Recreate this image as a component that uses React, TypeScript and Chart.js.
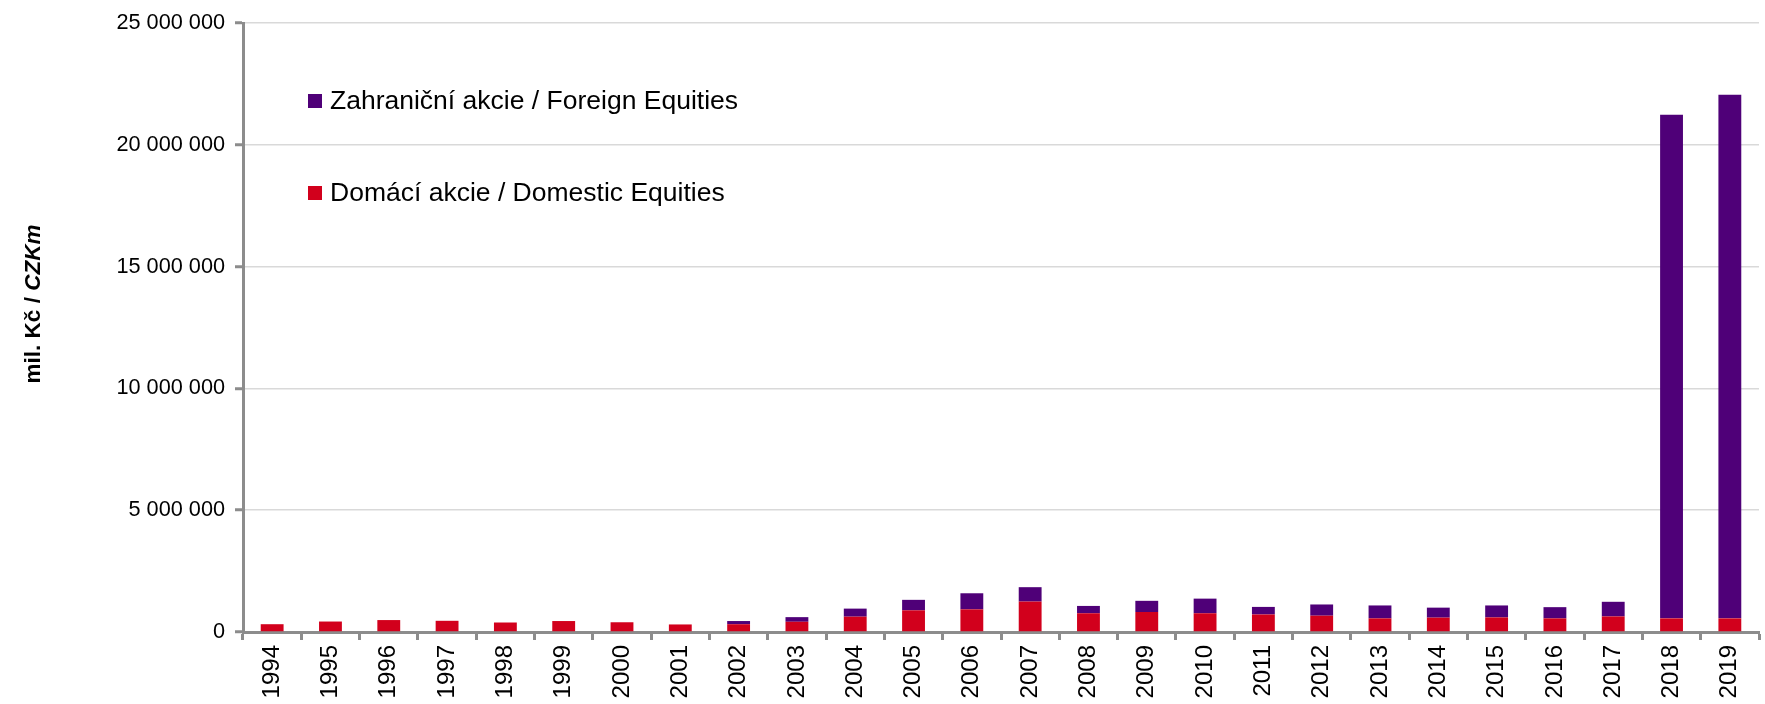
import { useEffect, useRef } from "react";
import { Chart, registerables } from "chart.js";

Chart.register(...registerables);

const years = [
  "1994", "1995", "1996", "1997", "1998", "1999", "2000", "2001", "2002", "2003",
  "2004", "2005", "2006", "2007", "2008", "2009", "2010", "2011", "2012", "2013",
  "2014", "2015", "2016", "2017", "2018", "2019",
];

const domestic = [
  320000, 430000, 490000, 460000, 390000, 450000, 400000, 310000, 320000, 420000,
  630000, 890000, 930000, 1250000, 770000, 820000, 770000, 720000, 670000, 560000,
  590000, 600000, 560000, 640000, 560000, 560000,
];

const foreign = [
  0, 0, 0, 0, 0, 0, 0, 0, 130000, 190000,
  330000, 430000, 660000, 590000, 300000, 460000, 600000, 310000, 460000, 530000,
  410000, 490000, 460000, 600000, 20670000, 21500000,
];

const seriesLabels = ["Domácí akcie / Domestic Equities", "Zahraniční akcie / Foreign Equities"];
const seriesColors = ["#d2001c", "#4f0078"];
const yTitleMain = "mil. Kč / ";
const yTitleItalic = "CZKm";
const yMax = 25000000;
const yStep = 5000000;

const FONT = "'Liberation Sans', Arial, sans-serif";
const AXIS_GRAY = "#8c8c8c";

const fmt = (v: number) => String(Math.round(v)).replace(/\B(?=(\d{3})+(?!\d))/g, " ");

const legendPlugin = {
  id: "insideLegend",
  afterDraw(chart: any) {
    const ctx = chart.ctx;
    const ds = chart.data.datasets;
    const order = [ds.length - 1, 0];
    const ys = [101, 193];
    ctx.save();
    ctx.font = `26.5px ${FONT}`;
    ctx.textBaseline = "middle";
    ctx.textAlign = "left";
    order.forEach((idx: number, i: number) => {
      const y = ys[i];
      ctx.fillStyle = ds[idx].backgroundColor;
      ctx.fillRect(308, y - 7, 14, 14);
      ctx.fillStyle = "#000";
      ctx.fillText(ds[idx].label, 330, y + 1);
    });
    ctx.restore();
  },
};

const yTitlePlugin = {
  id: "yTitle",
  afterDraw(chart: any) {
    const ctx = chart.ctx;
    ctx.save();
    ctx.translate(34, 304);
    ctx.rotate(-Math.PI / 2);
    ctx.textBaseline = "middle";
    ctx.textAlign = "left";
    const f1 = `bold 22.5px ${FONT}`;
    const f2 = `italic bold 22.5px ${FONT}`;
    ctx.font = f1;
    const w1 = ctx.measureText(yTitleMain).width;
    ctx.font = f2;
    const w2 = ctx.measureText(yTitleItalic).width;
    const start = -(w1 + w2) / 2;
    ctx.fillStyle = "#000";
    ctx.font = f1;
    ctx.fillText(yTitleMain, start, 0);
    ctx.font = f2;
    ctx.fillText(yTitleItalic, start + w1, 0);
    ctx.restore();
  },
};

export default function App() {
  const canvasRef = useRef<HTMLCanvasElement | null>(null);

  useEffect(() => {
    document.body.style.margin = "0";
    const canvas = canvasRef.current;
    if (!canvas) return;
    const chart = new Chart(canvas, {
      type: "bar",
      data: {
        labels: years,
        datasets: [
          {
            label: seriesLabels[0],
            data: domestic,
            backgroundColor: seriesColors[0],
            barPercentage: 0.8,
            categoryPercentage: 0.49,
          },
          {
            label: seriesLabels[1],
            data: foreign,
            backgroundColor: seriesColors[1],
            barPercentage: 0.8,
            categoryPercentage: 0.49,
          },
        ],
      },
      options: {
        animation: false,
        responsive: true,
        maintainAspectRatio: false,
        layout: { padding: { top: 19, right: 6, left: 0, bottom: 0 } },
        plugins: {
          legend: { display: false },
          tooltip: { enabled: false },
          title: { display: false },
        },
        scales: {
          x: {
            stacked: true,
            grid: {
              display: true,
              drawOnChartArea: false,
              drawTicks: true,
              tickLength: 8,
              tickWidth: 3,
              tickColor: AXIS_GRAY,
              offset: true,
            },
            border: { display: true, color: AXIS_GRAY, width: 3 },
            ticks: {
              autoSkip: false,
              minRotation: 90,
              maxRotation: 90,
              padding: 5,
              color: "#000",
              font: { family: FONT, size: 24 },
            },
            afterFit: (s: any) => {
              s.height = 72;
            },
          },
          y: {
            stacked: true,
            min: 0,
            max: yMax,
            grid: {
              color: "#d9d9d9",
              lineWidth: 1.5,
              tickColor: AXIS_GRAY,
              tickLength: 8,
              tickWidth: 3,
            },
            border: { display: true, color: AXIS_GRAY, width: 3 },
            ticks: {
              stepSize: yStep,
              padding: 10,
              color: "#000",
              font: { family: FONT, size: 21.7 },
              callback: (v: any) => fmt(Number(v)),
            },
            afterFit: (s: any) => {
              s.width = 243;
            },
          },
        },
      },
      plugins: [legendPlugin, yTitlePlugin],
    });
    return () => chart.destroy();
  }, []);

  return (
    <div style={{ position: "absolute", left: 0, top: 0, width: 1765, height: 704 }}>
      <canvas ref={canvasRef} />
    </div>
  );
}
